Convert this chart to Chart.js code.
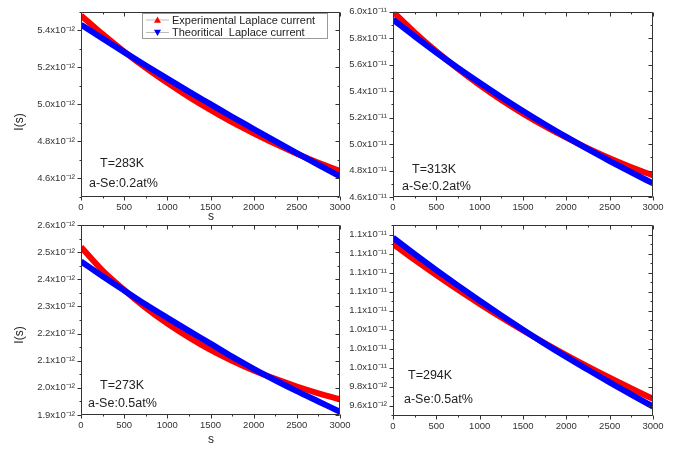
<!DOCTYPE html>
<html>
<head>
<meta charset="utf-8">
<script src="https://cdn.jsdelivr.net/npm/chart.js@4.4.0/dist/chart.umd.min.js"></script>
<style>
  body { margin: 0; background: #fff; width: 680px; height: 451px; position: relative; overflow: hidden; }
  canvas { position: absolute; }
</style>
</head>
<body>
<canvas id="c1" style="left:0;top:0" width="360" height="225"></canvas>
<canvas id="c2" style="left:335px;top:0" width="345" height="225"></canvas>
<canvas id="c3" style="left:0;top:212px" width="360" height="239"></canvas>
<canvas id="c4" style="left:335px;top:212px" width="345" height="239"></canvas>
<script>
// time (s)
const seconds = [0, 250, 500, 750, 1000, 1250, 1500, 1750, 2000, 2250, 2500, 2750, 3000];

// T=283K, a-Se:0.2at%  (x1e-12 A)
const exp283  = [5.480, 5.379, 5.285, 5.197, 5.116, 5.040, 4.970, 4.904, 4.844, 4.787, 4.734, 4.685, 4.640];
const theo283 = [5.430, 5.355, 5.282, 5.210, 5.139, 5.069, 5.001, 4.933, 4.867, 4.801, 4.737, 4.674, 4.611];
// T=313K, a-Se:0.2at%  (x1e-11 A)
const exp313  = [6.000, 5.844, 5.700, 5.568, 5.446, 5.333, 5.230, 5.135, 5.048, 4.967, 4.893, 4.825, 4.762];
const theo313 = [5.940, 5.814, 5.692, 5.575, 5.463, 5.354, 5.250, 5.150, 5.054, 4.961, 4.872, 4.786, 4.703];
// T=273K, a-Se:0.5at%  (x1e-12 A)
const exp273  = [2.519, 2.432, 2.361, 2.295, 2.237, 2.186, 2.140, 2.100, 2.064, 2.033, 2.005, 1.980, 1.958];
const theo273 = [2.466, 2.411, 2.359, 2.307, 2.258, 2.210, 2.163, 2.115, 2.070, 2.028, 1.988, 1.950, 1.912];
// T=294K, a-Se:0.5at%  (x1e-12 A)
const exp294  = [11.300, 11.133, 10.973, 10.818, 10.670, 10.527, 10.390, 10.258, 10.131, 10.009, 9.892, 9.779, 9.670];
const theo294 = [11.366, 11.193, 11.025, 10.862, 10.703, 10.549, 10.398, 10.252, 10.112, 9.977, 9.844, 9.715, 9.590];

// tick values
const xMajor = [0, 500, 1000, 1500, 2000, 2500, 3000];
const xMinor = [250, 750, 1250, 1750, 2250, 2750];
const yTicks283 = [4.6, 4.8, 5.0, 5.2, 5.4];
const yTicks313 = [4.6, 4.8, 5.0, 5.2, 5.4, 5.6, 5.8, 6.0];
const yTicks273 = [1.9, 2.0, 2.1, 2.2, 2.3, 2.4, 2.5, 2.6];
const yTicks294 = [9.6, 9.8, 10.0, 10.2, 10.4, 10.6, 10.8, 11.0, 11.2, 11.4];

const seriesNames = ['Experimental Laplace current', 'Theoritical  Laplace current'];

const fmt12 = v => v.toFixed(1) + 'x10⁻¹²';
const fmt11 = v => v.toFixed(1) + 'x10⁻¹¹';
const fmt294 = v => v < 9.95 ? v.toFixed(1) + 'x10⁻¹²' : (v / 10).toFixed(1) + 'x10⁻¹¹';

const FONT = '"Liberation Sans", Arial, sans-serif';
const INK = '#222';

function minorOf(ticks, min, max) {
  const out = [];
  const step = ticks[1] - ticks[0];
  const all = [ticks[0] - step].concat(ticks, [ticks[ticks.length - 1] + step]);
  for (let i = 0; i < all.length - 1; i++) {
    const m = (all[i] + all[i + 1]) / 2;
    if (m >= min - 1e-9 && m <= max + 1e-9) out.push(m);
  }
  return out;
}

function drawLegend(ctx, lg, sets) {
  ctx.fillStyle = '#fff';
  ctx.fillRect(lg.x, lg.y, lg.w, lg.h);
  ctx.strokeStyle = '#999';
  ctx.lineWidth = 1;
  ctx.strokeRect(lg.x + 0.5, lg.y + 0.5, lg.w, lg.h);
  sets.forEach((ds, i) => {
    const cy = lg.y + 7 + i * 12.5;
    ctx.strokeStyle = '#bbb';
    ctx.beginPath();
    ctx.moveTo(lg.x + 4, cy); ctx.lineTo(lg.x + 27, cy);
    ctx.stroke();
    const mx = lg.x + 15.5, s = 3.5;
    ctx.fillStyle = ds.borderColor;
    ctx.beginPath();
    if (i === 0) {
      ctx.moveTo(mx, cy - s); ctx.lineTo(mx + s, cy + s * 0.8); ctx.lineTo(mx - s, cy + s * 0.8);
    } else {
      ctx.moveTo(mx, cy + s); ctx.lineTo(mx + s, cy - s * 0.8); ctx.lineTo(mx - s, cy - s * 0.8);
    }
    ctx.closePath();
    ctx.fill();
    ctx.fillStyle = INK;
    ctx.font = '11px ' + FONT;
    ctx.textAlign = 'left';
    ctx.textBaseline = 'middle';
    ctx.fillText(ds.label, lg.x + 30, cy + 0.5);
  });
}

const decor = {
  id: 'decor',
  afterDatasetsDraw(chart) {
    const o = chart.options.plugins.decor;
    const { ctx, chartArea: a, scales: { x, y } } = chart;
    const L = Math.round(a.left) + 0.5, R = Math.round(a.right) - 0.5;
    const T = Math.round(a.top) + 0.5, B = Math.round(a.bottom) - 0.5;
    ctx.save();
    ctx.strokeStyle = '#333';
    ctx.lineWidth = 1;
    ctx.beginPath();
    ctx.rect(L, T, R - L, B - T);
    const vt = (v, len) => {
      const p = Math.round(x.getPixelForValue(v)) + 0.5;
      ctx.moveTo(p, B); ctx.lineTo(p, B + len);
      ctx.moveTo(p, T); ctx.lineTo(p, T + len);
    };
    const ht = (v, len) => {
      const p = Math.round(y.getPixelForValue(v)) + 0.5;
      ctx.moveTo(L, p); ctx.lineTo(L - len, p);
      ctx.moveTo(R, p); ctx.lineTo(R - len, p);
    };
    xMajor.forEach(v => vt(v, 4));
    xMinor.forEach(v => vt(v, 2));
    o.yMajor.forEach(v => ht(v, 4));
    minorOf(o.yMajor, y.min, y.max).forEach(v => ht(v, 2));
    ctx.stroke();

    ctx.fillStyle = INK;
    ctx.textBaseline = 'middle';
    ctx.textAlign = 'left';
    ctx.font = '12.5px ' + FONT;
    o.notes.forEach(n => ctx.fillText(n.text, n.x, n.y));

    ctx.font = '12px ' + FONT;
    ctx.textAlign = 'center';
    if (o.xTitle) ctx.fillText('s', o.xTitle.x, o.xTitle.y);
    if (o.yTitle) {
      ctx.save();
      ctx.translate(o.yTitle.x, o.yTitle.y);
      ctx.rotate(-Math.PI / 2);
      ctx.fillText('I(s)', 0, 0);
      ctx.restore();
    }
    if (o.legend) drawLegend(ctx, o.legend, chart.data.datasets);
    ctx.restore();
  }
};

function makePanel(id, p) {
  return new Chart(document.getElementById(id), {
    type: 'line',
    data: {
      labels: seconds,
      datasets: [
        { label: seriesNames[0], data: seconds.map((s, i) => ({ x: s, y: p.exp[i] })),
          borderColor: '#ff0000', borderWidth: 6, pointRadius: 0, order: 2,
          cubicInterpolationMode: 'monotone' },
        { label: seriesNames[1], data: seconds.map((s, i) => ({ x: s, y: p.theo[i] })),
          borderColor: '#0000ff', borderWidth: 6, pointRadius: 0, order: 1,
          cubicInterpolationMode: 'monotone' }
      ]
    },
    options: {
      responsive: false,
      animation: false,
      devicePixelRatio: 1,
      layout: { padding: { left: 0, right: p.padRight, top: p.padTop, bottom: 0 } },
      plugins: {
        legend: { display: false },
        tooltip: { enabled: false },
        decor: { yMajor: p.yTicks, notes: p.notes, xTitle: p.xTitle, yTitle: p.yTitle, legend: p.legend }
      },
      scales: {
        x: {
          type: 'linear', min: 0, max: 3000,
          grid: { display: false, drawTicks: false },
          border: { display: false },
          afterBuildTicks: s => { s.ticks = xMajor.map(v => ({ value: v })); },
          afterFit: s => { s.height = p.xHeight; },
          ticks: { color: '#333', padding: 5, maxRotation: 0, autoSkip: false,
                   callback: v => String(v),
                   font: { family: FONT, size: 9.5 } }
        },
        y: {
          min: p.yMin, max: p.yMax,
          grid: { display: false, drawTicks: false },
          border: { display: false },
          afterBuildTicks: s => { s.ticks = p.yTicks.map(v => ({ value: v })); },
          afterFit: s => { s.width = p.yWidth; },
          ticks: { color: '#333', padding: 6, autoSkip: false, callback: p.fmt,
                   font: { family: FONT, size: 9.5 } }
        }
      }
    },
    plugins: [decor]
  });
}

makePanel('c1', {
  exp: exp283, theo: theo283, yMin: 4.5, yMax: 5.5, yTicks: yTicks283, fmt: fmt12,
  yWidth: 81, xHeight: 28, padTop: 7, padRight: 20,
  notes: [{ text: 'T=283K', x: 100, y: 164 }, { text: 'a-Se:0.2at%', x: 89, y: 184 }],
  xTitle: { x: 211, y: 217 }, yTitle: { x: 20, y: 122 },
  legend: { x: 142, y: 13, w: 185, h: 25 }
});
makePanel('c2', {
  exp: exp313, theo: theo313, yMin: 4.6, yMax: 6.0, yTicks: yTicks313, fmt: fmt11,
  yWidth: 58, xHeight: 28, padTop: 7, padRight: 27,
  notes: [{ text: 'T=313K', x: 77, y: 170 }, { text: 'a-Se:0.2at%', x: 67, y: 187 }]
});
makePanel('c3', {
  exp: exp273, theo: theo273, yMin: 1.9, yMax: 2.6, yTicks: yTicks273, fmt: fmt12,
  yWidth: 81, xHeight: 36, padTop: 13, padRight: 20,
  notes: [{ text: 'T=273K', x: 100, y: 174 }, { text: 'a-Se:0.5at%', x: 88, y: 192 }],
  xTitle: { x: 211, y: 228 }, yTitle: { x: 20, y: 123 }
});
makePanel('c4', {
  exp: exp294, theo: theo294, yMin: 9.49, yMax: 11.5, yTicks: yTicks294, fmt: fmt294,
  yWidth: 58, xHeight: 35, padTop: 13, padRight: 27,
  notes: [{ text: 'T=294K', x: 73, y: 164 }, { text: 'a-Se:0.5at%', x: 69, y: 188 }]
});
</script>
</body>
</html>
